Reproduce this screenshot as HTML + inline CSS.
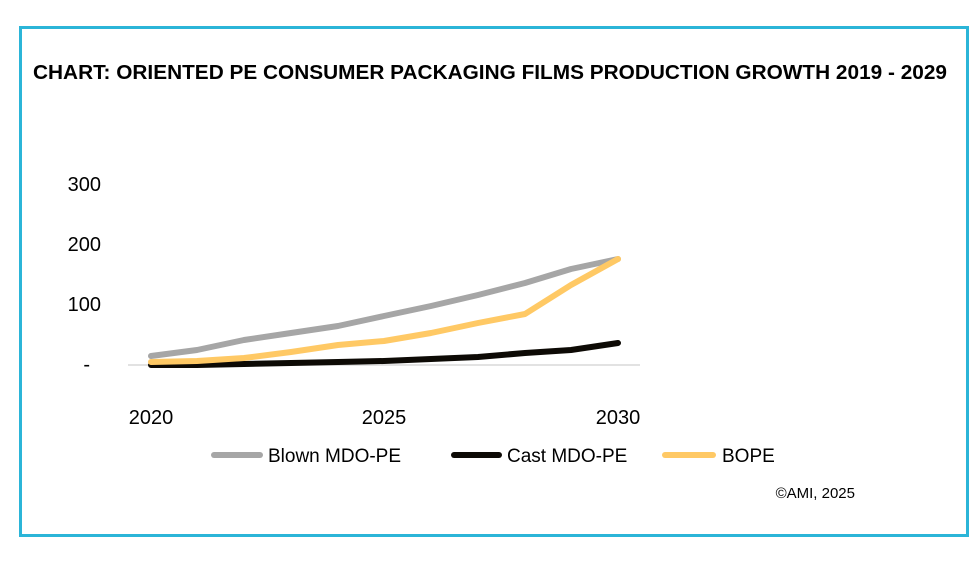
<!DOCTYPE html>
<html><head><meta charset="utf-8"><style>
html,body{margin:0;padding:0;background:#fff;}
</style></head><body>
<svg width="980" height="560" xmlns="http://www.w3.org/2000/svg" font-family="Liberation Sans, sans-serif">
<rect x="0" y="0" width="980" height="560" fill="#fff"/>
<rect x="20.5" y="27.5" width="947" height="508" fill="none" stroke="#2bb5d8" stroke-width="3"/>
<text x="490" y="79" text-anchor="middle" font-weight="bold" font-size="20" textLength="914" lengthAdjust="spacingAndGlyphs">CHART: ORIENTED PE CONSUMER PACKAGING FILMS PRODUCTION GROWTH 2019 - 2029</text>
<g font-size="20" fill="#000" text-anchor="end">
<text x="101" y="191">300</text>
<text x="101" y="251">200</text>
<text x="101" y="311">100</text>
<text x="90" y="371">-</text>
</g>
<line x1="128" y1="365" x2="640" y2="365" stroke="#d9d9d9" stroke-width="1.5"/>
<g font-size="20" text-anchor="middle">
<text x="151" y="424">2020</text>
<text x="384" y="424">2025</text>
<text x="618" y="424">2030</text>
</g>
<g fill="none" stroke-width="6" stroke-linejoin="round" stroke-linecap="round">
<polyline stroke="#a6a6a6" points="151,356 197,350 244,340 291,333 338,326 384,316 431,306 478,295 525,283 571,269 618,259"/>
<polyline stroke="#0d0a05" points="151,365 197,365 244,364 291,363 338,362 384,361 431,359 478,357 525,353 571,350 618,343"/>
<polyline stroke="#ffc965" points="151,362 197,361 244,358 291,352 338,345 384,341 431,333 478,323 525,314 571,285 618,259"/>
</g>
<g stroke-width="6" stroke-linecap="round">
<line x1="214" y1="455" x2="260" y2="455" stroke="#a6a6a6"/>
<line x1="454" y1="455" x2="499" y2="455" stroke="#0d0a05"/>
<line x1="665" y1="455" x2="713" y2="455" stroke="#ffc965"/>
</g>
<g font-size="19">
<text x="268" y="462">Blown MDO-PE</text>
<text x="507" y="462">Cast MDO-PE</text>
<text x="722" y="462">BOPE</text>
</g>
<text x="855" y="498" font-size="15" text-anchor="end">©AMI, 2025</text>
</svg>
</body></html>
